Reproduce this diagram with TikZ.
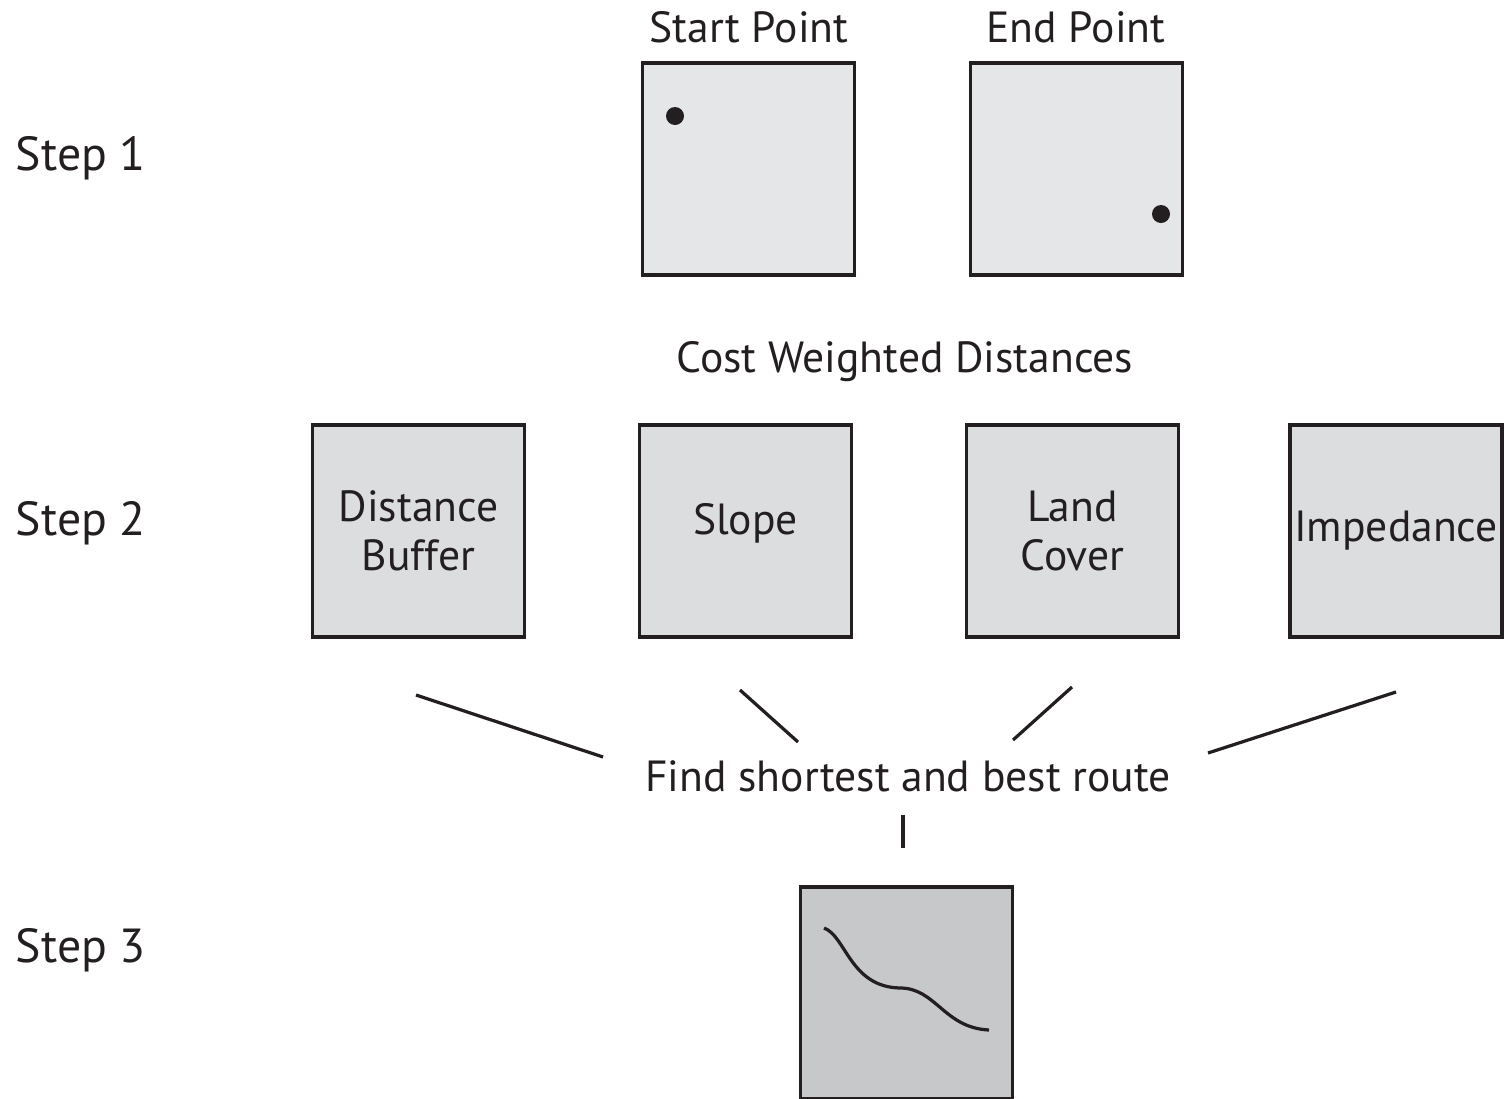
\documentclass[tikz,border=0pt]{standalone}
\usepackage{fontspec}
\setmainfont{PT Sans}
\definecolor{ink}{HTML}{231F20}
\definecolor{paleA}{HTML}{E5E6E8}
\definecolor{paleB}{HTML}{DCDDDF}
\definecolor{paleC}{HTML}{C7C8CA}

\begin{document}
\begin{tikzpicture}[x=0.025cm, y=-0.025cm,
    every node/.style={text=ink, font=\fontsize{31}{35}\selectfont},
    steplbl/.style={anchor=west, font=\fontsize{34}{40}\selectfont},
    tile/.style={draw=ink, line width=2.3pt, minimum width=5.3cm, minimum height=5.3cm,
                 inner sep=0pt, align=center},
    link/.style={draw=ink, line width=2.3pt}]

    \useasboundingbox (0,0) rectangle (1508,1099);

    % Step 1
    \node[steplbl] (s1) at (11,158) {Step 1};
    \node[tile, fill=paleA] (start) at (748.5,169) {};
    \node[tile, fill=paleA] (end) at (1076.5,169) {};
    \node (startlbl) at (749,27) {Start Point};
    \node (endlbl) at (1076,27) {End Point};
    \fill[ink] (675,116) circle (9);
    \fill[ink] (1161,214) circle (9);

    % Step 2
    \node[steplbl] (s2) at (11,523) {Step 2};
    \node (cost) at (905,362) {Cost Weighted Distances};
    \node[tile, fill=paleB] (buffer) at (418.5,531) {Distance\\Buffer};
    \node[tile, fill=paleB] (slope) at (745.5,531) {\raisebox{0.55em}{Slope}};
    \node[tile, fill=paleB] (cover) at (1072.5,531) {Land\\Cover};
    \node[tile, fill=paleB] (imped) at (1396,531) {Impedance};

    % Combine
    \node (route) at (908,776) {Find shortest and best route};
    \coordinate (a1) at (416,695);  \coordinate (a2) at (603,757);
    \coordinate (b1) at (740,690);  \coordinate (b2) at (798,742);
    \coordinate (c1) at (1072,687); \coordinate (c2) at (1013,740);
    \coordinate (d1) at (1396,692); \coordinate (d2) at (1208,753);
    \draw[link] (a1) -- (a2);
    \draw[link] (b1) -- (b2);
    \draw[link] (c1) -- (c2);
    \draw[link] (d1) -- (d2);
    \draw[link] (route.south) ++(-5,18) coordinate (r1) -- ++(0,33) coordinate (r2);

    % Step 3
    \node[steplbl] (s3) at (11,950) {Step 3};
    \node[tile, fill=paleC] (result) at (906.5,993) {};
    \draw[link] (824,928) .. controls (846,936) and (850,987) .. (900,988)
                .. controls (936,988) and (944,1028) .. (989,1030);

\end{tikzpicture}
\end{document}
